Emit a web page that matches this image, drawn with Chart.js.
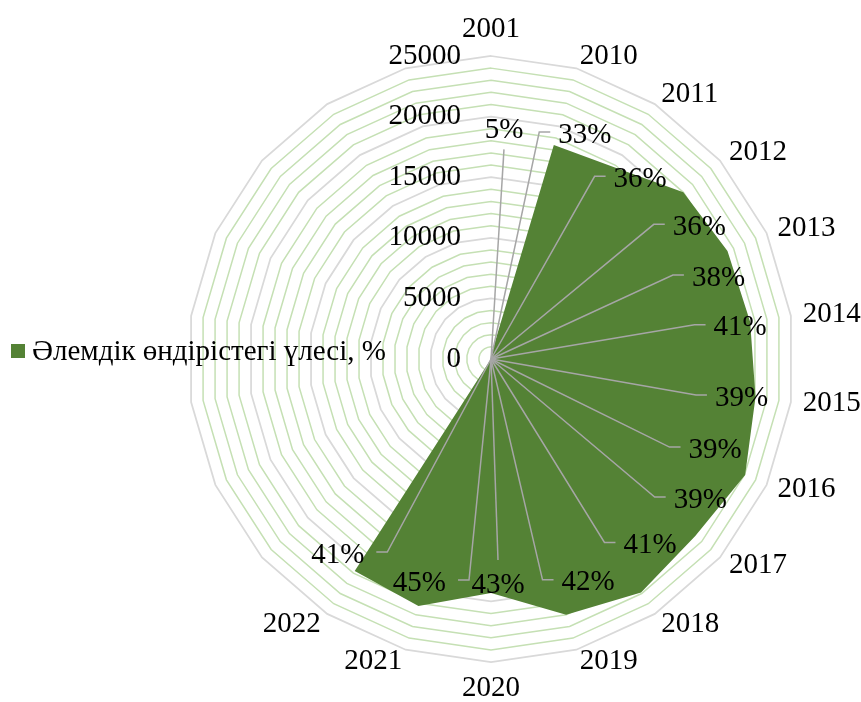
<!DOCTYPE html>
<html>
<head>
<meta charset="utf-8">
<script src="https://cdn.jsdelivr.net/npm/chart.js@4.4.1/dist/chart.umd.min.js"></script>
<style>
  html, body { margin: 0; padding: 0; background: #fff; }
  #wrap { width: 861px; height: 702px; }
</style>
</head>
<body>
<div id="wrap"><canvas id="chart" width="861" height="702"></canvas></div>
<script>
// categories (the last eight spokes carry no label in the source chart)
const years = ['2001', '2010', '2011', '2012', '2013', '2014', '2015', '2016',
  '2017', '2018', '2019', '2020', '2021', '2022', '', '', '', '', '', '', '', ''];

// series values
const output = [300, 18400, 18800, 21000, 21450, 21600, 22050, 23050,
  22300, 22900, 22000, 19300, 21250, 20800, 0, 0, 0, 0, 0, 0, 0, 0];

// data labels shown instead of the values
const worldShare = ['5%', '33%', '36%', '36%', '38%', '41%', '39%', '39%',
  '39%', '41%', '42%', '43%', '45%', '41%'];

// radial axis
const axisMax = 25000;
const gridStep = 1000;
const tickStep = 5000;

const seriesName = 'Әлемдік өндірістегі үлесі, %';

const FILL = '#548235';
const FONT = "29px 'Liberation Serif', 'DejaVu Serif', serif";

// where each data label sits, relative to its point (px)
const labelShift = [[13, -225], [31, -10], [26, 12], [16, 35], [-9, 27], [-10, 6], [-14, 1],
  [-30, -25], [5, -36], [9, -47], [22, -32], [7, -8], [1, -23], [-17, -16]];

const radarText = {
  id: 'radarText',
  afterDatasetsDraw(chart) {
    const ctx = chart.ctx;
    const scale = chart.scales.r;
    const meta = chart.getDatasetMeta(0);
    const cx = scale.xCenter;
    const cy = scale.yCenter;

    ctx.save();
    ctx.font = FONT;
    ctx.textAlign = 'center';
    ctx.textBaseline = 'middle';

    const spots = worldShare.map((txt, i) => {
      const pt = meta.data[i];
      return {
        txt: txt,
        x: pt.x + labelShift[i][0],
        y: pt.y + labelShift[i][1],
        w: ctx.measureText(txt).width,
      };
    });

    // leader lines
    ctx.strokeStyle = '#A6A6A6';
    ctx.lineWidth = 1.5;
    spots.forEach((s) => {
      ctx.beginPath();
      ctx.moveTo(cx, cy);
      if (Math.abs(s.x - cx) < 15) {
        ctx.lineTo(s.x, s.y < cy ? s.y + 19 : s.y - 25);
      } else if (s.x > cx) {
        const ex = s.x - s.w / 2 - 8;
        ctx.lineTo(ex - 11, s.y - 3);
        ctx.lineTo(ex, s.y - 3);
      } else {
        const ex = s.x + s.w / 2 + 12;
        ctx.lineTo(ex + 11, s.y - 3);
        ctx.lineTo(ex, s.y - 3);
      }
      ctx.stroke();
    });

    ctx.fillStyle = '#000';
    spots.forEach((s) => ctx.fillText(s.txt, s.x, s.y));
    ctx.restore();
  },

  afterDraw(chart) {
    const ctx = chart.ctx;
    const scale = chart.scales.r;
    const cx = scale.xCenter;
    const cy = scale.yCenter;

    ctx.save();
    ctx.font = FONT;
    ctx.fillStyle = '#000';

    // value ticks, right aligned beside the top spoke
    ctx.textAlign = 'right';
    ctx.textBaseline = 'middle';
    for (let v = 0; v <= axisMax; v += tickStep) {
      ctx.fillText(String(v), cx - 30, cy - scale.getDistanceFromCenterForValue(v));
    }

    // category labels
    years.forEach((lab, i) => {
      if (!lab) return;
      const p = scale.getPointPosition(i, scale.drawingArea + 12);
      const dx = p.x - cx;
      if (Math.abs(dx) < 1) {
        ctx.textAlign = 'center';
        ctx.textBaseline = p.y < cy ? 'bottom' : 'top';
      } else {
        ctx.textAlign = dx > 0 ? 'left' : 'right';
        ctx.textBaseline = 'middle';
      }
      ctx.fillText(lab, p.x, p.y);
    });

    // legend
    const ly = chart.height / 2;
    ctx.fillStyle = FILL;
    ctx.fillRect(11, ly - 7, 14, 14);
    ctx.fillStyle = '#000';
    ctx.textAlign = 'left';
    ctx.textBaseline = 'middle';
    ctx.fillText(chart.data.datasets[0].label, 32, ly + 1);
    ctx.restore();
  },
};

new Chart(document.getElementById('chart'), {
  type: 'radar',
  data: {
    labels: years,
    datasets: [{
      label: seriesName,
      data: output,
      backgroundColor: FILL,
      borderColor: FILL,
      borderWidth: 0,
      pointRadius: 0,
      fill: true,
    }],
  },
  options: {
    responsive: false,
    animation: false,
    devicePixelRatio: 1,
    layout: {
      padding: { left: 188, right: 67, top: 56, bottom: 40 },
    },
    plugins: {
      legend: { display: false },
      tooltip: { enabled: false },
    },
    scales: {
      r: {
        min: 0,
        max: axisMax,
        ticks: { display: false, stepSize: gridStep },
        pointLabels: { display: false },
        angleLines: { display: false },
        grid: {
          circular: false,
          color: (c) => (c.tick && c.tick.value % tickStep === 0 ? '#D9D9D9' : '#C5E0B4'),
          lineWidth: (c) => (c.tick && c.tick.value % tickStep === 0 ? 1.75 : 1.5),
        },
      },
    },
  },
  plugins: [radarText],
});
</script>
</body>
</html>
